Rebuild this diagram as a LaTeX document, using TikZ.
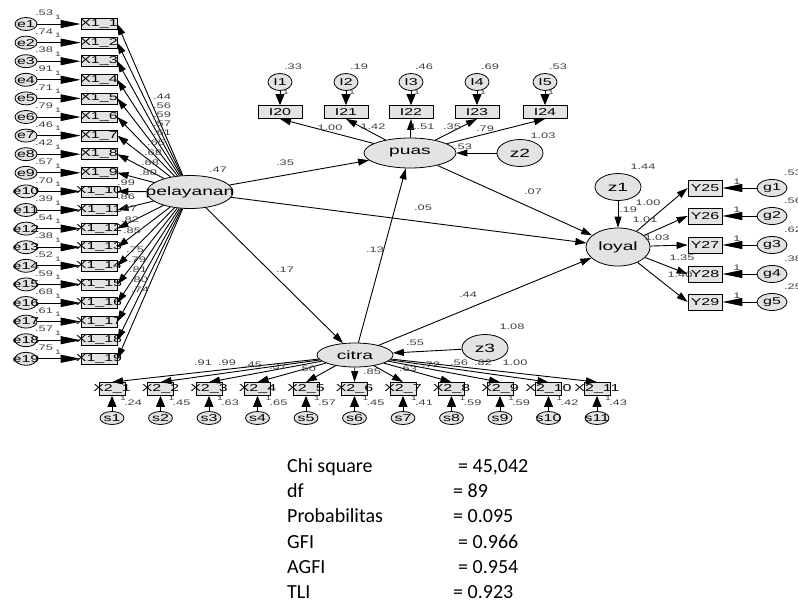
\documentclass[tikz,border=0pt]{standalone}
\usepackage{fontspec}
\setmainfont{Liberation Sans}
\newfontfamily\statfont{Carlito}
\usepackage{graphicx}
\usetikzlibrary{positioning, arrows.meta, shapes.geometric, calc}

% stretched text, width ignored so that it may overflow its box
\newcommand{\stxt}[1]{\makebox[0pt]{\scalebox{1.6}[1]{#1}}}

\tikzset{
  latent/.style={ellipse, draw, fill=gray!22, inner sep=0pt, line width=0.8pt, font=\fontsize{12}{12}\selectfont},
  errc/.style={ellipse, draw, fill=gray!22, inner sep=0pt, line width=0.8pt, font=\fontsize{10}{10}\selectfont},
  obs/.style={rectangle, draw, fill=gray!22, inner sep=0pt, line width=0.8pt, font=\fontsize{10}{10}\selectfont},
  est/.style={inner sep=0pt, text=black!75, font=\fontsize{8}{8}\selectfont},
  one/.style={inner sep=0pt, text=black!75, font=\fontsize{6.5}{6.5}\selectfont},
  reg/.style={line width=0.9pt, -{Triangle[length=11pt,width=7pt]}},
  errlong/.style={line width=0.9pt, -{Triangle[length=20pt,width=8pt]}},
  errshort/.style={line width=0.9pt, -{Triangle[length=11pt,width=9pt]}},
  stat/.style={inner sep=0pt, anchor=base west, font=\statfont\fontsize{20}{20}\selectfont}
}

\begin{document}
\begin{tikzpicture}[x=1pt, y=-1pt]
  \useasboundingbox (0,0) rectangle (798,600);
  \clip (0,0) rectangle (798,600);

  % latent variables
  \node[latent, minimum width=86pt, minimum height=33pt] (pel) at (190,192) {\stxt{pelayanan}};
  \node[latent, minimum width=92pt, minimum height=30pt] (puas) at (410,153) {\stxt{puas}};
  \node[latent, minimum width=64pt, minimum height=38pt] (loy) at (618,247) {\stxt{loyal}};
  \node[latent, minimum width=76pt, minimum height=24pt] (cit) at (355,355) {\stxt{citra}};
  \node[latent, minimum width=46pt, minimum height=27pt] (z1) at (618,187) {\stxt{z1}};
  \node[latent, minimum width=46pt, minimum height=27pt] (z2) at (520,153) {\stxt{z2}};
  \node[latent, minimum width=46pt, minimum height=27pt] (z3) at (485,348) {\stxt{z3}};

  % indicators of pelayanan
  \foreach \i/\v in {1/.53,2/.74,3/.38,4/.91,5/.71,6/.79,7/.46,8/.42,9/.57,10/.70,
                     11/.39,12/.54,13/.38,14/.52,15/.59,16/.68,17/.61,18/.57,19/.75} {
    \pgfmathsetmacro\yy{24+(\i-1)*18.6}
    \node[errc, minimum width=22pt, minimum height=13pt] (e\i) at (26,\yy) {\stxt{e\i}};
    \node[obs, minimum width=36pt, minimum height=11pt] (xa\i) at (99,\yy) {\stxt{X1\_\i}};
    \draw[errlong] (e\i) -- (xa\i);
    \node[est] at ($(e\i)+(18,-11)$) {\stxt{\v}};
    \node[one] at ($(e\i)+(32,-7)$) {\stxt{1}};
  }
  \foreach \i/\v/\lx/\ly in {1/.44/162/97, 2/.56/162/106, 3/.59/162/115, 4/.57/162/124,
                             5/.61/162/133, 6/.65/156/143, 7/.68/153/153, 8/.68/150/163,
                             9/.80/148/173, 10/.99/126/183, 11/.86/126/197, 12/.87/128/209,
                             13/.82/130/220, 14/.85/132/231, 15/.75/135/250, 16/.79/137/260,
                             17/.81/138/270, 18/.80/139/280, 19/.74/140/290} {
    \draw[reg] (pel) -- (xa\i.east);
    \node[est] at (\lx,\ly) {\stxt{\v}};
  }

  % indicators of puas
  \foreach \i/\x/\v/\b in {1/280/.33/20, 2/346/.19/21, 3/411/.46/22, 4/477/.69/23, 5/545/.53/24} {
    \node[errc, minimum width=24pt, minimum height=17pt] (l\i) at (\x,82) {\stxt{I\i}};
    \node[obs, minimum width=44pt, minimum height=13pt] (ib\i) at (\x,112) {\stxt{I\b}};
    \draw[errshort] (l\i) -- (ib\i);
    \draw[reg] (puas) -- (ib\i.south);
    \node[est] at ($(l\i)+(13,-15)$) {\stxt{\v}};
    \node[one] at ($(l\i)+(6,10)$) {\stxt{1}};
  }
  \node[est] at (330,128) {\stxt{1.00}};
  \node[est] at (373,127) {\stxt{1.42}};
  \node[est] at (422,127) {\stxt{1.51}};
  \node[est] at (452,127) {\stxt{.35}};
  \node[est] at (485,129) {\stxt{.79}};
  \node[est] at (543,136) {\stxt{1.03}};

  % indicators of loyal
  \foreach \i/\y/\v/\n in {1/188/.53/25, 2/216/.56/26, 3/245/.62/27, 4/274/.38/28, 5/302/.25/29} {
    \node[obs, minimum width=34pt, minimum height=16pt] (y\i) at (705,\y) {\stxt{Y\n}};
    \node[errc, minimum width=30pt, minimum height=17pt] (g\i) at (772,\y) {\stxt{g\i}};
    \draw[errlong] (g\i) -- (y\i);
    \draw[reg] (loy) -- (y\i.west);
    \node[est] at ($(g\i)+(21,-15)$) {\stxt{\v}};
    \node[est] at ($(y\i)+(32,-6)$) {\stxt{1}};
  }
  \node[est] at (643,167) {\stxt{1.44}};
  \node[est] at (648,203) {\stxt{1.00}};
  \node[est] at (628,210) {\stxt{.19}};
  \node[est] at (645,220) {\stxt{1.01}};
  \node[est] at (657,238) {\stxt{1.03}};
  \node[est] at (682,258) {\stxt{1.35}};
  \node[est] at (680,275) {\stxt{1.40}};

  % indicators of citra
  \foreach \i/\v/\w/\lx/\ly in {1/.24/.91/203/363, 2/.45/.99/227/363, 3/.63/.45/253/365,
                                4/.65/.37/278/367, 5/.57/.50/307/369, 6/.45/.85/372/372,
                                7/.41/.63/408/369, 8/.59/.72/431/365, 9/.59/.56/459/363,
                                10/.42/.82/483/363, 11/.43/1.00/515/363} {
    \pgfmathsetmacro\xx{112+(\i-1)*48.5}
    \node[obs, minimum width=26pt, minimum height=13pt] (xb\i) at (\xx,389) {\stxt{X2\_\i}};
    \node[errc, minimum width=24pt, minimum height=13pt] (s\i) at (\xx,418) {\stxt{s\i}};
    \draw[errshort] (s\i) -- (xb\i);
    \draw[reg] (cit) -- (xb\i.north);
    \node[est] at ($(xb\i)+(21,14)$) {\stxt{\v}};
    \node[one] at ($(xb\i)+(11,9)$) {\stxt{1}};
    \node[est] at (\lx,\ly) {\stxt{\w}};
  }

  % structural paths
  \draw[reg] (pel) -- (puas);
  \draw[reg] (pel) -- (loy);
  \draw[reg] (pel) -- (cit);
  \draw[reg] (cit) -- (puas);
  \draw[reg] (cit) -- (loy);
  \draw[reg] (puas) -- (loy);
  \draw[reg] (z1) -- (loy);
  \draw[reg] (z2) -- (puas);
  \draw[reg] (z3) -- (cit);
  \node[est] at (218,170) {\stxt{.47}};
  \node[est] at (285,163) {\stxt{.35}};
  \node[est] at (423,208) {\stxt{.05}};
  \node[est] at (285,270) {\stxt{.17}};
  \node[est] at (375,250) {\stxt{.13}};
  \node[est] at (468,295) {\stxt{.44}};
  \node[est] at (533,192) {\stxt{.07}};
  \node[est] at (463,147) {\stxt{.53}};
  \node[est] at (415,343) {\stxt{.55}};
  \node[est] at (512,327) {\stxt{1.08}};

  % fit indices
  \node[stat] (chi) at (287,472) {Chi square};
  \node[stat] (chiv) at (458,472) {= 45,042};
  \node[stat] (df) at (287,497) {df};
  \node[stat] (dfv) at (453,497) {= 89};
  \node[stat] (prob) at (287,522) {Probabilitas};
  \node[stat] (probv) at (453,522) {= 0.095};
  \node[stat] (gfi) at (287,548) {GFI};
  \node[stat] (gfiv) at (458,548) {= 0.966};
  \node[stat] (agfi) at (287,573) {AGFI};
  \node[stat] (agfiv) at (458,573) {= 0.954};
  \node[stat] (tli) at (287,598) {TLI};
  \node[stat] (tliv) at (453,598) {= 0.923};
\end{tikzpicture}
\end{document}
